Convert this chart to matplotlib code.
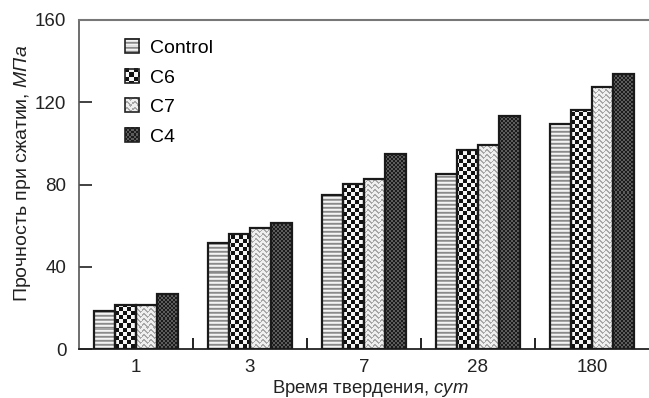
import numpy as np
import matplotlib
matplotlib.use("Agg")
import matplotlib.pyplot as plt
from matplotlib.legend_handler import HandlerBase
from matplotlib.image import BboxImage
from matplotlib.transforms import Bbox, TransformedBbox
from matplotlib.patches import Rectangle

plt.rcParams['font.family'] = ['Liberation Sans', 'DejaVu Sans']
plt.rcParams['mathtext.fontset'] = 'custom'
plt.rcParams['mathtext.rm'] = 'Liberation Sans'
plt.rcParams['mathtext.it'] = 'Liberation Sans:italic'

categories = ['1', '3', '7', '28', '180']
series_names = ['Control', 'C6', 'C7', 'C4']
control = [18.5, 51.7, 74.9, 85.1, 109.6]
c6 = [21.4, 56.1, 80.1, 96.9, 116.1]
c7 = [21.4, 58.9, 82.5, 99.1, 127.3]
c4 = [26.8, 61.1, 94.8, 113.3, 133.8]
yticks = [0, 40, 80, 120, 160]

series_values = [control, c6, c7, c4]


def hexrgb(h):
    h = h.lstrip('#')
    return [int(h[i:i + 2], 16) / 255 for i in (0, 2, 4)]


def texture(kind, h, w):
    r, c = np.mgrid[0:h, 0:w]
    img = np.zeros((h, w, 3))
    if kind == 'stripes':
        cols = [hexrgb('#8a8a8a'), hexrgb('#a5a5a5'), hexrgb('#f4f4f4'), hexrgb('#e2e2e2')]
        for k in range(4):
            img[(r % 4) == k] = cols[k]
    elif kind == 'checker':
        m = ((r // 4) + (c // 4)) % 2 == 0
        img[m] = hexrgb('#111111')
        img[~m] = hexrgb('#f6f6f6')
    elif kind == 'wave':
        d = (r + 1.3 * np.sin(2 * np.pi * c / 7.0)) % 5
        m = d < 1.8
        img[m] = hexrgb('#a8a8a8')
        img[~m] = hexrgb('#efefef')
    elif kind == 'dark':
        m = ((r // 2) + (c // 2)) % 2 == 0
        img[m] = hexrgb('#5c5c5c')
        img[~m] = hexrgb('#1c1c1c')
    return img


kinds = ['stripes', 'checker', 'wave', 'dark']

fig = plt.figure(figsize=(6.49, 3.98), dpi=100)
ax = fig.add_axes([79 / 649, 1 - 349 / 398, 570 / 649, 329 / 398])

x = np.arange(len(categories))
w = 0.184
offsets = [-1.5 * w, -0.5 * w, 0.5 * w, 1.5 * w]

ax.set_xlim(-0.5, len(categories) - 0.5)
ax.set_ylim(0, 160)

H, W = 329, 570
for i, (vals, kind) in enumerate(zip(series_values, kinds)):
    bars = ax.bar(x + offsets[i], vals, width=w, facecolor='none',
                  edgecolor='#1a1a1a', linewidth=1.6, zorder=3)
    tex = texture(kind, H, W)
    for b in bars:
        im = ax.imshow(tex, extent=(-0.5, len(categories) - 0.5, 0, 160),
                       origin='upper', interpolation='nearest', aspect='auto',
                       zorder=2)
        im.set_clip_path(b)

ax.set_xlim(-0.5, len(categories) - 0.5)
ax.set_ylim(0, 160)
ax.set_aspect('auto')

FS = 14
ax.set_xticks(x)
ax.set_xticklabels(categories, fontsize=13.5, color='#222222')
ax.set_xticks(np.arange(0.5, len(categories) - 1, 1.0), minor=True)
ax.tick_params(axis='x', which='major', length=0, pad=7)
ax.tick_params(axis='x', which='minor', direction='in', length=8, width=1.4, color='#222222')
ax.set_yticks(yticks)
ax.set_yticklabels([str(v) for v in yticks], fontsize=13.5, color='#222222')
ax.tick_params(axis='y', direction='in', length=9, width=1.3, color='#333333', pad=9)

ax.spines['right'].set_visible(False)
ax.spines['top'].set_color('#777777')
ax.spines['top'].set_linewidth(1.5)
ax.spines['left'].set_color('#555555')
ax.spines['left'].set_linewidth(1.2)
ax.spines['bottom'].set_color('#222222')
ax.spines['bottom'].set_linewidth(1.3)

ax.set_xlabel('Время твердения, $\\mathit{сут}$', fontsize=13.3, color='#222222')
ax.xaxis.set_label_coords(0.511, -0.089)
ax.set_ylabel('Прочность при сжатии, $\\mathit{МПа}$', fontsize=FS, color='#222222')
ax.yaxis.set_label_coords(-0.081, 0.535)


class HandlerTexture(HandlerBase):
    def __init__(self, kind):
        super().__init__()
        self.kind = kind

    def create_artists(self, legend, orig_handle, xdescent, ydescent,
                       width, height, fontsize, trans):
        bb = TransformedBbox(Bbox.from_bounds(-xdescent, -ydescent, width, height), trans)
        img = BboxImage(bb, interpolation='nearest')
        img.set_data(texture(self.kind, 14, 14))
        rect = Rectangle((-xdescent, -ydescent), width, height, facecolor='none',
                         edgecolor='#222222', linewidth=1.2, transform=trans)
        return [img, rect]


proxies = [Rectangle((0, 0), 1, 1) for _ in series_names]
hmap = {p: HandlerTexture(k) for p, k in zip(proxies, kinds)}
ax.legend(proxies, series_names, handler_map=hmap, loc='upper left',
          bbox_to_anchor=(0.08, 0.942), frameon=False, fontsize=FS,
          handlelength=0.75, handleheight=0.75, handletextpad=0.55,
          labelspacing=0.6, borderpad=0, borderaxespad=0)

fig.savefig('out.png', dpi=100)
